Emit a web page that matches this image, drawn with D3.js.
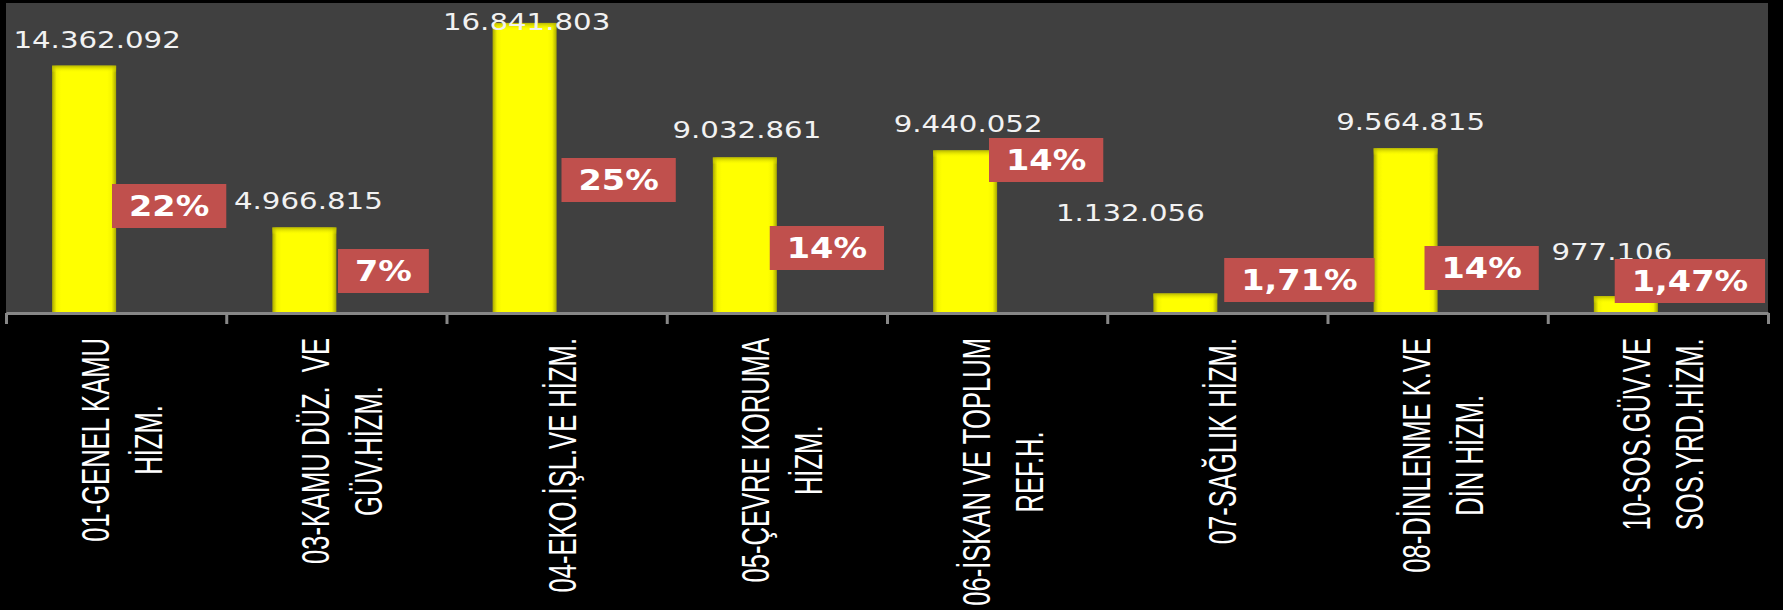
<!DOCTYPE html>
<html>
<head>
<meta charset="utf-8">
<script src="https://cdn.jsdelivr.net/npm/d3@7"></script>
<style>
html, body { margin: 0; padding: 0; background: #000; }
svg { display: block; }
</style>
</head>
<body>
<div id="chart"></div>
<script>
// datos del grafico
const codes = ["01", "03", "04", "05", "06", "07", "08", "10"]
const categoryLines = [
  ["01-GENEL KAMU", "HİZM."],
  ["03-KAMU DÜZ.  VE", "GÜV.HİZM."],
  ["04-EKO.İŞL.VE HİZM."],
  ["05-ÇEVRE KORUMA", "HİZM."],
  ["06-İSKAN VE TOPLUM", "REF.H."],
  ["07-SAĞLIK HİZM."],
  ["08-DİNLENME K.VE", "DİN HİZM."],
  ["10-SOS.GÜV.VE", "SOS.YRD.HİZM."]
]
const values = [14362092, 4966815, 16841803, 9032861, 9440052, 1132056, 9564815, 977106]
const shares = ["22%", "7%", "25%", "14%", "14%", "1,71%", "14%", "1,47%"]
const yMax = 18000000

// etiquetas movidas a mano en el original (px)
const valueNudge = [[13, 0], [4, 0], [2, 25], [2, -1], [3, 0], [-55, -55], [5, 0], [-14, -18]]
const shareShift = [21, 15, 30, 18, 17, 50, 12, 0]
const shareLift = [107, 42, 133, 65, 153, 33, 45, 32]

// boceto
const width = 1783
const height = 610
const plot = { left: 6, right: 1768, top: 3, bottom: 313 }
const stretch = 1.3   // el original esta estirado en horizontal

const fmt = d3.formatLocale({ decimal: ",", thousands: ".", grouping: [3], currency: ["", ""] }).format(",d")

const svg = d3.select("#chart")
  .append("svg")
  .attr("width", width)
  .attr("height", height)

svg.append("rect").attr("width", width).attr("height", height).attr("fill", "#000")
svg.append("rect")
  .attr("x", plot.left).attr("y", plot.top)
  .attr("width", plot.right - plot.left).attr("height", plot.bottom - plot.top)
  .attr("fill", "#404040")

const defs = svg.append("defs")
const grad = defs.append("linearGradient").attr("id", "barGrad").attr("x1", 0).attr("x2", 1).attr("y1", 0).attr("y2", 0)
grad.append("stop").attr("offset", "0%").attr("stop-color", "#a8a800")
grad.append("stop").attr("offset", "7%").attr("stop-color", "#f5f500")
grad.append("stop").attr("offset", "14%").attr("stop-color", "#ffff00")
grad.append("stop").attr("offset", "86%").attr("stop-color", "#ffff00")
grad.append("stop").attr("offset", "93%").attr("stop-color", "#f5f500")
grad.append("stop").attr("offset", "100%").attr("stop-color", "#a8a800")
const gradTop = defs.append("linearGradient").attr("id", "barTop").attr("x1", 0).attr("x2", 0).attr("y1", 0).attr("y2", 1)
gradTop.append("stop").attr("offset", "0%").attr("stop-color", "#b0b000").attr("stop-opacity", 0.9)
gradTop.append("stop").attr("offset", "100%").attr("stop-color", "#ffff00").attr("stop-opacity", 0)

// escalas
const x0 = d3.scaleBand().domain(codes).range([plot.left, plot.right]).padding(0)
const x1 = d3.scaleBand().domain(["value", "share"]).range([0, x0.bandwidth()]).paddingInner(0).paddingOuter(0.72)
const y = d3.scaleLinear().domain([0, yMax]).range([plot.bottom, plot.top])
const xEdge = d3.scaleLinear().domain([0, codes.length]).range([plot.left, plot.right])

const datos = codes.map((c, i) => ({ code: c, value: values[i], share: shares[i], lines: categoryLines[i], i: i }))

// barras
const bars = svg.append("g").attr("id", "bars")
bars.selectAll("rect.bar").data(datos).enter()
  .append("rect")
  .attr("class", "bar")
  .attr("x", d => x0(d.code) + x1("value"))
  .attr("y", d => y(d.value))
  .attr("width", x1.bandwidth())
  .attr("height", d => y(0) - y(d.value))
  .attr("fill", "url(#barGrad)")
bars.selectAll("rect.cap").data(datos).enter()
  .append("rect")
  .attr("class", "cap")
  .attr("x", d => x0(d.code) + x1("value"))
  .attr("y", d => y(d.value))
  .attr("width", x1.bandwidth())
  .attr("height", 7)
  .attr("fill", "url(#barTop)")

// eje
const axisG = svg.append("g")
  .attr("transform", `translate(0, ${plot.bottom})`)
  .call(d3.axisBottom(xEdge).tickValues(d3.range(codes.length + 1)).tickFormat("").tickSize(11).tickSizeOuter(0))
axisG.select(".domain").attr("stroke", "#878787").attr("stroke-width", 3)
axisG.selectAll(".tick line").attr("stroke", "#878787").attr("stroke-width", 3)

// etiquetas de valor
svg.append("g").selectAll("text").data(datos).enter()
  .append("text")
  .attr("transform", d => {
    const cx = x0(d.code) + x1("value") + x1.bandwidth() / 2 + valueNudge[d.i][0]
    const cy = y(d.value) - 18 + valueNudge[d.i][1]
    return `translate(${cx}, ${cy}) scale(${stretch}, 1)`
  })
  .attr("text-anchor", "middle")
  .attr("font-family", "DejaVu Sans, Verdana, sans-serif")
  .attr("font-size", 22.5)
  .attr("fill", "#f2f2f2")
  .text(d => fmt(d.value))

// etiquetas de porcentaje
const shareG = svg.append("g").selectAll("g").data(datos).enter()
  .append("g")
  .attr("transform", d => `translate(${x0(d.code) + x1("share") + x1.bandwidth() / 2 + shareShift[d.i]}, ${plot.bottom - shareLift[d.i]})`)
shareG.each(function (d) {
  const g = d3.select(this)
  const box = g.append("rect").attr("fill", "#c0504d")
  const t = g.append("text")
    .attr("text-anchor", "middle")
    .attr("font-family", "DejaVu Sans, Verdana, sans-serif")
    .attr("font-weight", "bold")
    .attr("font-size", 27.5)
    .attr("fill", "#fff")
    .attr("y", 10)
    .attr("transform", `scale(1.22, 1)`)
    .text(d.share)
  const w = t.node().getComputedTextLength() * 1.22 + 34
  box.attr("x", -w / 2).attr("y", -22).attr("width", w).attr("height", 44)
})

// etiquetas de categoria (giradas)
const catG = svg.append("g").attr("id", "categories")
datos.forEach(d => {
  const cx = x0(d.code) + x0.bandwidth() / 2
  const n = d.lines.length
  const texts = d.lines.map((line, j) => catG.append("text")
    .attr("font-family", "Liberation Sans, Arial, sans-serif")
    .attr("font-size", 25.6)
    .attr("fill", "#fff")
    .attr("text-anchor", "middle")
    .style("white-space", "pre")
    .attr("transform", `translate(${cx + 19 + (j - (n - 1) / 2) * 53}, 338) scale(1.55, 1) rotate(-90)`)
    .text(line))
  const maxLen = d3.max(texts, t => t.node().getComputedTextLength())
  texts.forEach(t => t.attr("x", -maxLen / 2))
})
</script>
</body>
</html>
